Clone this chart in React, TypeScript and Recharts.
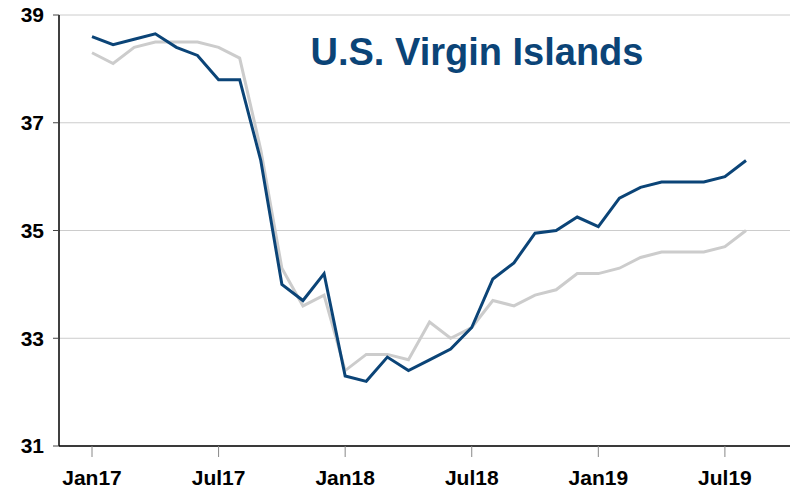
import React from "react";
import { LineChart, Line, XAxis, YAxis, CartesianGrid } from "recharts";

const months = [
  "Jan17", "Feb17", "Mar17", "Apr17", "May17", "Jun17", "Jul17", "Aug17", "Sep17", "Oct17", "Nov17", "Dec17",
  "Jan18", "Feb18", "Mar18", "Apr18", "May18", "Jun18", "Jul18", "Aug18", "Sep18", "Oct18", "Nov18", "Dec18",
  "Jan19", "Feb19", "Mar19", "Apr19", "May19", "Jun19", "Jul19", "Aug19",
];

const blueSeries = [
  38.6, 38.45, 38.55, 38.65, 38.4, 38.25, 37.8, 37.8, 36.3, 34.0, 33.7, 34.2,
  32.3, 32.2, 32.65, 32.4, 32.6, 32.8, 33.2, 34.1, 34.4, 34.95, 35.0, 35.25,
  35.07, 35.6, 35.8, 35.9, 35.9, 35.9, 36.0, 36.3,
];

const graySeries = [
  38.3, 38.1, 38.4, 38.5, 38.5, 38.5, 38.4, 38.2, 36.5, 34.3, 33.6, 33.8,
  32.4, 32.7, 32.7, 32.6, 33.3, 33.0, 33.2, 33.7, 33.6, 33.8, 33.9, 34.2,
  34.2, 34.3, 34.5, 34.6, 34.6, 34.6, 34.7, 35.0,
];

const yTicks = [31, 33, 35, 37, 39];

const data = months.map((m, i) => ({ month: m, blue: blueSeries[i], gray: graySeries[i] }));

const BLUE = "#0B4477";
const FONT = "'Liberation Sans', Arial, sans-serif";

export default function App() {
  return (
    <div style={{ position: "absolute", left: 0, top: 0, width: 794, height: 492, background: "#fff" }}>
      <LineChart width={794} height={492} data={data} margin={{ top: 15, right: 4, left: 0, bottom: 0 }}>
        <CartesianGrid vertical={false} stroke="#cccccc" strokeWidth={1} />
        <XAxis
          dataKey="month"
          interval={5}
          height={46}
          padding={{ left: 33, right: 44 }}
          tickSize={11}
          tickMargin={13}
          axisLine={{ stroke: "#000", strokeWidth: 1.5 }}
          tickLine={{ stroke: "#888" }}
          tick={{ fill: "#000", fontSize: 21, fontWeight: "bold", fontFamily: FONT }}
        />
        <XAxis xAxisId="top" orientation="top" dataKey="month" height={0} tick={false} tickLine={false}
          axisLine={{ stroke: "#000", strokeWidth: 1.5 }} />
        <YAxis
          domain={[31, 39]}
          ticks={yTicks}
          width={59}
          tickSize={6}
          tickMargin={9}
          axisLine={{ stroke: "#000", strokeWidth: 1.5 }}
          tickLine={{ stroke: "#444" }}
          tick={{ fill: "#000", fontSize: 21, fontWeight: "bold", fontFamily: FONT }}
        />
        <YAxis yAxisId="right" orientation="right" domain={[31, 39]} width={0} tick={false} tickLine={false}
          axisLine={{ stroke: "#555", strokeWidth: 2 }} />
        <Line type="linear" dataKey="gray" stroke="#cccccc" strokeWidth={3} dot={false} isAnimationActive={false} />
        <Line type="linear" dataKey="blue" stroke={BLUE} strokeWidth={3} dot={false} isAnimationActive={false} />
      </LineChart>
      <div
        style={{
          position: "absolute",
          left: 277,
          top: 33,
          width: 400,
          textAlign: "center",
          fontFamily: FONT,
          fontWeight: "bold",
          fontSize: 38,
          lineHeight: "38px",
          color: BLUE,
          whiteSpace: "nowrap",
        }}
      >
        U.S. Virgin Islands
      </div>
    </div>
  );
}
